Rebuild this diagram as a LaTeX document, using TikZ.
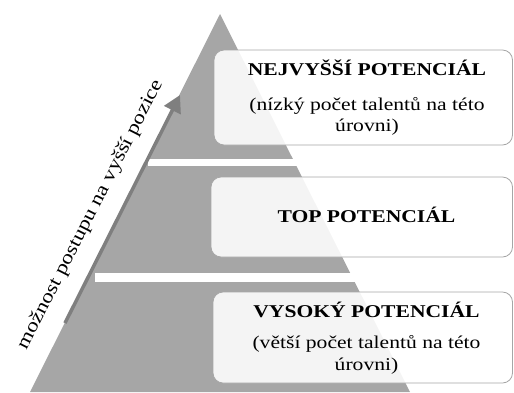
\documentclass[tikz,border=0pt]{standalone}
\usepackage{fontspec}
\setmainfont{Liberation Serif}[FakeStretch=1.2]
\usetikzlibrary{arrows.meta}
\definecolor{pyr}{HTML}{A6A6A6}
\definecolor{arr}{HTML}{7F7F7F}
\begin{document}
\begin{tikzpicture}[x=1pt,y=-1pt,
  layerbox/.style={draw=pyr, line width=0.8pt, fill=white, fill opacity=0.88, rounded corners=10pt, inner sep=0pt},
  headtxt/.style={font=\fontsize{18}{21}\selectfont\bfseries, anchor=base, inner sep=0pt},
  subtxt/.style={font=\fontsize{18}{21}\selectfont, anchor=base, inner sep=0pt},
  sidetxt/.style={font=\fontsize{19}{22}\selectfont, anchor=base, inner sep=0pt, rotate=63},
  uparrow/.style={draw=arr, line width=3.5pt, -{Triangle[length=17pt,width=18pt]}}
]
\useasboundingbox (0,0) rectangle (514,392);
% pyramid
\fill[pyr] (220,14) -- (410,392) -- (30,392) -- cycle;
\fill[white] (148,159) rectangle (420,166);
\fill[white] (95,273) rectangle (420,282);
% boxes
\node[layerbox, minimum width=298.5pt, minimum height=95pt] (b1) at (363.25,97.5) {};
\node[layerbox, minimum width=301.5pt, minimum height=80pt] (b2) at (361.75,217) {};
\node[layerbox, minimum width=299.5pt, minimum height=91pt] (b3) at (362.75,337.5) {};
% texts
\node[headtxt] (h1) at (367,75) {NEJVYŠŠÍ POTENCIÁL};
\node[subtxt] (s1a) at (367,110) {(nízký počet talentů na této};
\node[subtxt] (s1b) at (367,131) {úrovni)};
\node[headtxt] (h2) at (366.5,222) {TOP POTENCIÁL};
\node[headtxt] (h3) at (366.5,317) {VYSOKÝ POTENCIÁL};
\node[subtxt] (s3a) at (366.5,348) {(větší počet talentů na této};
\node[subtxt] (s3b) at (366.5,370) {úrovni)};
% arrow
\coordinate (a0) at (65,323);
\coordinate (a1) at (180,95);
\draw[uparrow] (a0) -- (a1);
\node[sidetxt] (lbl) at (94.5,217) {možnost postupu na vyšší pozice};
\end{tikzpicture}
\end{document}
